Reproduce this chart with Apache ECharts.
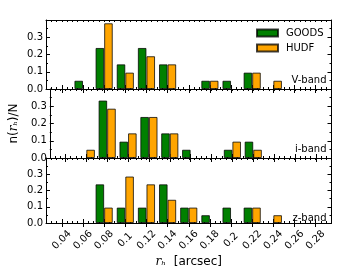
<!DOCTYPE html>
<html><head><meta charset="utf-8">
<script src="https://cdn.jsdelivr.net/npm/echarts@6/dist/echarts.min.js"></script>
<style>html,body{margin:0;padding:0;background:#fff}#c{width:353px;height:269px}</style>
</head><body><div id="c"></div>
<script>
const rh = [0.06, 0.08, 0.10, 0.12, 0.14, 0.16, 0.18, 0.20, 0.22, 0.24];
const xTicks = [0.04, 0.06, 0.08, 0.10, 0.12, 0.14, 0.16, 0.18, 0.20, 0.22, 0.24, 0.26, 0.28];
const yTicks = [0.0, 0.1, 0.2, 0.3];
const bands = ['V-band', 'i-band', 'z-band'];
const goodsV = [0.048, 0.238, 0.143, 0.238, 0.143, 0, 0.048, 0.048, 0.095, 0];
const hudfV  = [0, 0.381, 0.095, 0.190, 0.143, 0, 0.048, 0, 0.095, 0.048];
const goodsI = [0, 0.333, 0.095, 0.238, 0.143, 0.048, 0, 0.048, 0.095, 0];
const hudfI  = [0.048, 0.286, 0.143, 0.238, 0.143, 0, 0, 0.095, 0.048, 0];
const goodsZ = [0, 0.238, 0.095, 0.095, 0.238, 0.095, 0.048, 0.095, 0.095, 0];
const hudfZ  = [0, 0.095, 0.286, 0.238, 0.143, 0.095, 0, 0, 0.095, 0.048];

const goods = [goodsV, goodsI, goodsZ];
const hudf = [hudfV, hudfI, hudfZ];
const FONT = 'DejaVu Sans';
const XMIN = 0.025, XMAX = 0.295;
const gridTop = [20, 89, 158];
const grids = [], xAxes = [], yAxes = [], series = [];
const black = {color: '#000', width: 1};
for (let g = 0; g < 3; g++) {
  grids.push({left: 46, right: 21.5, top: gridTop[g], height: 69});
  const base = xAxes.length;
  xAxes.push({gridIndex: g, type: 'value', min: XMIN, max: XMAX, interval: 0.005, position: 'bottom',
    axisLine: {show: true, onZero: false, lineStyle: black}, axisTick: {show: true, inside: true, length: 2, lineStyle: black},
    axisLabel: {show: false}, splitLine: {show: false}});
  xAxes.push({gridIndex: g, type: 'value', min: XMIN, max: XMAX, position: 'bottom',
    axisLine: {show: false, onZero: false}, axisTick: {show: true, inside: true, length: 4, lineStyle: black, customValues: xTicks},
    axisLabel: {show: g === 2, customValues: xTicks, rotate: 45, align: 'center', verticalAlign: 'middle', margin: 17,
      fontFamily: FONT, fontSize: 10, color: '#000', formatter: v => String(parseFloat(v.toFixed(2)))},
    splitLine: {show: false},
    name: g === 2 ? '{i|r}{s|ₕ}{a|  [arcsec]}' : '', nameLocation: 'middle', nameGap: 33,
    nameTextStyle: {color: '#000', rich: {i: {fontFamily: 'DejaVu Serif', fontStyle: 'italic', fontSize: 12}, s: {fontFamily: 'DejaVu Serif', fontStyle: 'italic', fontSize: 11}, a: {fontFamily: FONT, fontSize: 12}}}});
  xAxes.push({gridIndex: g, type: 'value', min: XMIN, max: XMAX, interval: 0.005, position: 'top',
    axisLine: {show: true, onZero: false, lineStyle: black}, axisTick: {show: true, inside: true, length: 2, lineStyle: black},
    axisLabel: {show: false}, splitLine: {show: false}});
  xAxes.push({gridIndex: g, type: 'value', min: XMIN, max: XMAX, position: 'top',
    axisLine: {show: false}, axisTick: {show: true, inside: true, length: 4, lineStyle: black, customValues: xTicks},
    axisLabel: {show: false}, splitLine: {show: false}});
  const ybase = yAxes.length;
  yAxes.push({gridIndex: g, type: 'value', min: 0, max: 0.4, interval: 0.1, position: 'left',
    axisLine: {show: true, lineStyle: black}, axisTick: {show: true, inside: true, length: 4, lineStyle: black},
    minorTick: {show: true, splitNumber: 2, length: 2, lineStyle: black},
    axisLabel: {show: true, showMaxLabel: false, margin: 3, fontFamily: FONT, fontSize: 10, color: '#000',
      formatter: v => v.toFixed(1)},
    splitLine: {show: false},
    name: g === 1 ? '{a|n(}{i|r}{s|ₕ}{a|)/N}' : '', nameLocation: 'middle', nameGap: 22,
    nameTextStyle: {color: '#000', rich: {i: {fontFamily: 'DejaVu Serif', fontStyle: 'italic', fontSize: 12}, s: {fontFamily: 'DejaVu Serif', fontStyle: 'italic', fontSize: 10}, a: {fontFamily: FONT, fontSize: 12}}}});
  yAxes.push({gridIndex: g, type: 'value', min: 0, max: 0.4, interval: 0.1, position: 'right',
    axisLine: {show: true, lineStyle: black}, axisTick: {show: true, inside: true, length: 4, lineStyle: black},
    minorTick: {show: true, splitNumber: 2, length: 2, lineStyle: black},
    axisLabel: {show: false}, splitLine: {show: false}});
  const mk = arr => rh.map((x, i) => [x, arr[i]]).filter(d => d[1] > 0);
  series.push({type: 'bar', name: 'GOODS', xAxisIndex: base, yAxisIndex: ybase, data: mk(goods[g]),
    barWidth: 8.6, barGap: '0%', itemStyle: {color: '#008000', borderColor: 'rgba(0,0,0,0.75)', borderWidth: 1}});
  series.push({type: 'bar', name: 'HUDF', xAxisIndex: base, yAxisIndex: ybase, data: mk(hudf[g]),
    barWidth: 8.6, barGap: '0%', itemStyle: {color: '#FFA500', borderColor: 'rgba(0,0,0,0.75)', borderWidth: 1}});
}
const chart = echarts.init(document.getElementById('c'), null, {renderer: 'canvas'});
chart.setOption({
  animation: false,
  backgroundColor: '#fff',
  grid: grids, xAxis: xAxes, yAxis: yAxes, series: series,
  legend: {data: ['GOODS', 'HUDF'], orient: 'vertical', left: 256, top: 28, padding: 0,
    itemWidth: 21, itemHeight: 7, itemGap: 5, icon: 'rect',
    textStyle: {fontFamily: FONT, fontSize: 10, color: '#000', lineHeight: 10, padding: [0, 0, 0, 3]}},
  graphic: bands.map((b, i) => ({type: 'text', x: 326.5, y: [80, 149.3, 218.3][i],
    style: {text: b, font: '10px "DejaVu Sans"', fill: '#000', textAlign: 'right', textVerticalAlign: 'middle'}}))
});
</script></body></html>
